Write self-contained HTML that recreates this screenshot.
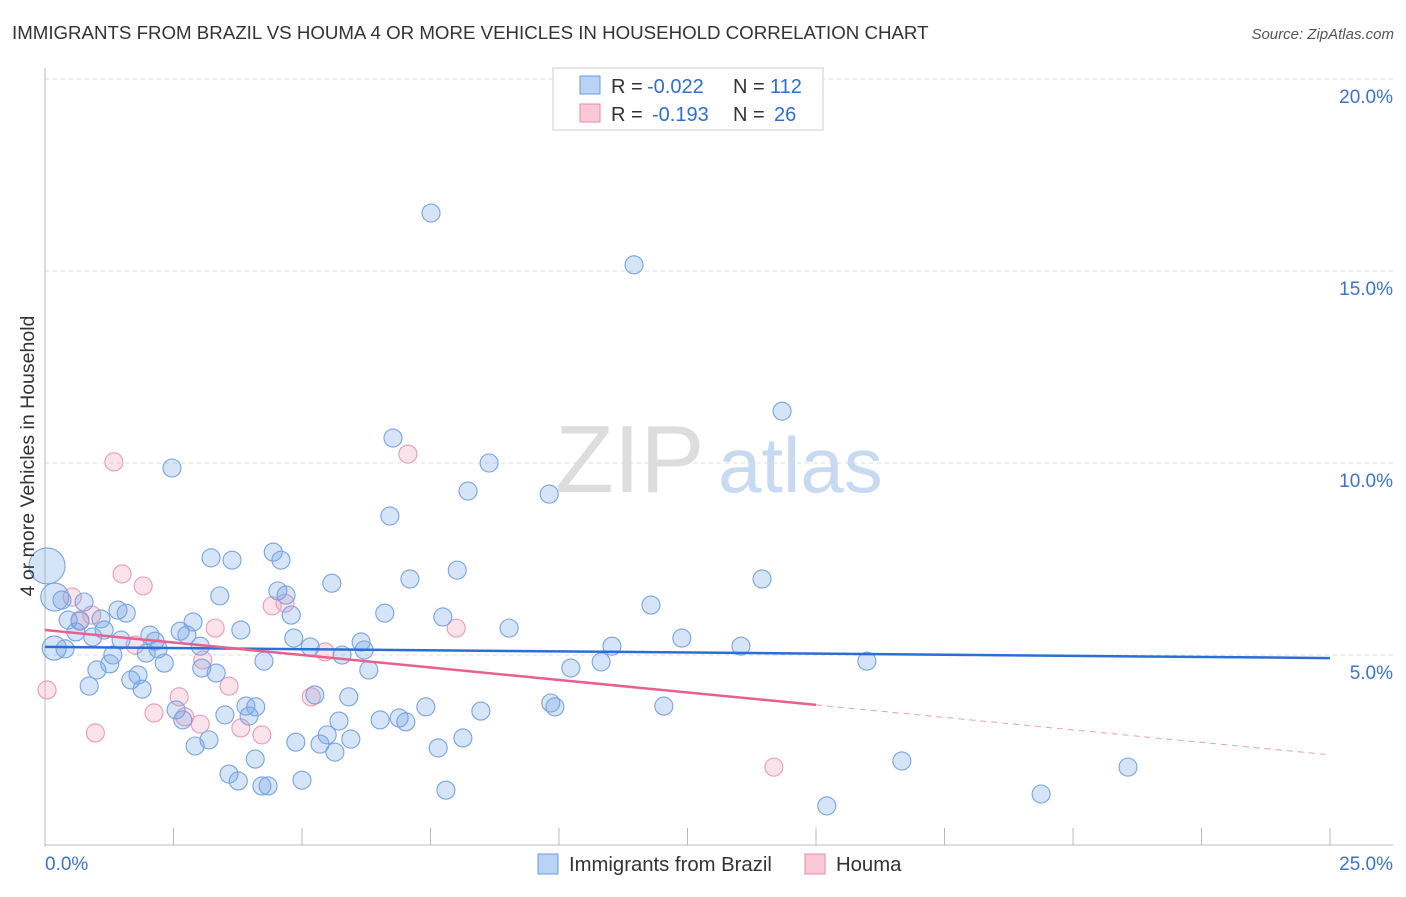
<!DOCTYPE html>
<html><head><meta charset="utf-8"><style>
body{margin:0;background:#fff;font-family:"Liberation Sans",sans-serif;}
svg text{font-family:"Liberation Sans",sans-serif;}
</style></head><body>
<svg width="1406" height="892" id="chart">
<text x="12" y="39" font-size="18.7" fill="#333">IMMIGRANTS FROM BRAZIL VS HOUMA 4 OR MORE VEHICLES IN HOUSEHOLD CORRELATION CHART</text>
<text x="1394" y="39" font-size="15" fill="#555" text-anchor="end" font-style="italic">Source: ZipAtlas.com</text>
<g>
<text x="555" y="492" font-size="96" fill="#ddd" font-family="Liberation Serif">ZIP</text>
<text x="718" y="492" font-size="78" fill="#c8daf2">atlas</text>
</g>
<g id="grid"></g><g id="axes"></g><g id="marks"></g><g id="trends"></g>
<text x="34" y="456" font-size="19.5" fill="#333" text-anchor="middle" transform="rotate(-90 34 456)">4 or more Vehicles in Household</text>
<g>
<rect x="553" y="68" width="270" height="62" fill="#fff" stroke="#ccc"/>
<rect x="580" y="76" width="20" height="18" fill="#b9d3f5" stroke="#6a9ae0"/>
<rect x="580" y="104" width="20" height="18" fill="#f9c8d6" stroke="#ea8aa8"/>
<text x="611" y="93" font-size="20" fill="#333">R =</text><text x="647" y="93" font-size="20" fill="#2f6fd0">-0.022</text>
<text x="733" y="93" font-size="20" fill="#333">N =</text><text x="770" y="93" font-size="20" fill="#2f6fd0">112</text>
<text x="611" y="121" font-size="20" fill="#333">R =</text><text x="652" y="121" font-size="20" fill="#2f6fd0">-0.193</text>
<text x="733" y="121" font-size="20" fill="#333">N =</text><text x="774" y="121" font-size="20" fill="#2f6fd0">26</text>
</g>
<g>
<rect x="538" y="854" width="20" height="20" fill="#b9d3f5" stroke="#6a9ae0"/>
<text x="569" y="871" font-size="20.3" fill="#333">Immigrants from Brazil</text>
<rect x="805" y="854" width="20" height="20" fill="#f9c8d6" stroke="#ea8aa8"/>
<text x="836" y="871" font-size="20.3" fill="#333">Houma</text>
</g>
</svg>
<script>
const yTicks=[5,10,15,20];
const yTickLabels=["5.0%","10.0%","15.0%","20.0%"];
const xTickCount=10;
const brazilX=[7.51,11.46,14.34,6.77,8.64,2.47,8.23,9.81,6.71,3.23,3.64,4.44,4.59,8.02,7.10,5.58,13.95,0.04,0.19,3.40,4.53,4.69,11.79,0.33,0.76,1.42,1.58,6.61,7.74,4.79,0.45,0.68,1.09,2.88,9.03,0.60,1.15,3.81,2.04,2.63,2.76,0.93,1.48,2.14,4.84,6.15,12.39,11.03,13.54,3.02,5.16,6.21,2.20,0.18,0.39,1.32,1.97,5.78,4.26,2.32,15.99,10.82,10.23,1.26,1.01,3.05,6.30,3.33,1.81,1.67,1.89,0.86,5.25,5.91,9.84,9.92,12.04,4.10,7.41,8.48,2.55,3.91,3.97,3.50,2.68,5.72,6.52,6.89,7.02,5.49,5.95,8.13,3.19,4.88,5.35,2.92,7.65,5.64,4.09,16.67,21.07,3.58,3.76,5.00,4.22,4.34,7.80,19.38,15.21];
const brazilY=[16.51,15.16,11.35,10.65,10.0,9.87,9.27,9.19,8.62,7.53,7.47,7.68,7.47,7.21,6.98,6.87,6.98,7.32,6.51,6.54,6.67,6.56,6.30,6.43,6.38,6.17,6.09,6.09,5.99,6.04,5.91,5.88,5.94,5.86,5.70,5.60,5.65,5.65,5.52,5.62,5.52,5.47,5.39,5.36,5.44,5.34,5.44,5.23,5.23,5.23,5.21,5.13,5.16,5.18,5.16,5.0,5.05,5.0,4.84,4.79,4.84,4.82,4.66,4.77,4.61,4.66,4.61,4.53,4.48,4.35,4.11,4.19,3.96,3.91,3.75,3.65,3.67,3.65,3.65,3.54,3.57,3.67,3.41,3.44,3.31,3.28,3.31,3.36,3.26,2.92,2.81,2.84,2.79,2.73,2.68,2.63,2.58,2.47,2.29,2.24,2.08,1.90,1.72,1.74,1.59,1.59,1.48,1.38,1.07];
const brazilSize=[9,9,9,9,9,9,9,9,9,9,9,9,9,9,9,9,9,18,14,9,9,9,9,9,9,9,9,9,9,9,9,9,9,9,9,9,9,9,9,9,9,9,9,9,9,9,9,9,9,9,9,9,9,12,9,9,9,9,9,9,9,9,9,9,9,9,9,9,9,9,9,9,9,9,9,9,9,9,9,9,9,9,9,9,9,9,9,9,9,9,9,9,9,9,9,9,9,9,9,9,9,9,9,9,9,9,9,9,9];
const houmaX=[1.34,7.06,1.50,1.91,4.42,4.67,0.53,0.91,0.68,3.31,8.00,1.75,3.07,5.45,0.04,2.61,3.58,5.18,2.12,2.72,3.02,3.81,4.22,0.98,14.18];
const houmaY=[10.03,10.23,7.11,6.80,6.28,6.35,6.51,6.04,5.91,5.70,5.70,5.26,4.87,5.08,4.09,3.91,4.19,3.91,3.49,3.39,3.20,3.10,2.92,2.97,2.08];
const brazilTrend=[5.21,4.92];
const houmaTrend=[5.65,2.40];
const houmaSolidEnd=15;

const NS="http://www.w3.org/2000/svg";
const X0=45,X1=1330,Y0=847,PPY=192/5;
const sx=v=>X0+(X1-X0)*v/25, sy=v=>Y0-v*PPY;
function mk(tag,attrs,parent){const e=document.createElementNS(NS,tag);for(const k in attrs)e.setAttribute(k,attrs[k]);document.getElementById(parent).appendChild(e);return e;}
yTicks.forEach((t,i)=>{
 const g=mk('line',{x1:X0,x2:1393,y1:sy(t),y2:sy(t),stroke:'#ddd','stroke-dasharray':'4,4'},'grid');
 
 
 const l=mk('text',{x:1393,y:sy(t)+24,'font-size':19,fill:'#3a74d0','text-anchor':'end'},'grid');l.textContent=yTickLabels[i];
 
 
});
const ax=mk('line',{x1:X0,x2:X0,y1:68,y2:Y0,stroke:'#bbb'},'axes');


const bx=mk('line',{x1:X0,x2:1393,y1:Y0-2,y2:Y0-2,stroke:'#bbb'},'axes');


for(let i=0;i<=xTickCount;i++){const v=25*i/xTickCount;
 const t=mk('line',{x1:sx(v),x2:sx(v),y1:828,y2:Y0-2,stroke:'#bbb'},'axes');
 
 }
const xl0=mk('text',{x:45,y:870,'font-size':19,fill:'#3a74d0'},'axes');xl0.textContent='0.0%';


const xl1=mk('text',{x:1393,y:870,'font-size':19,fill:'#3a74d0','text-anchor':'end'},'axes');xl1.textContent='25.0%';


houmaX.forEach((x,i)=>{const c=mk('circle',{cx:sx(x),cy:sy(houmaY[i]),r:9,fill:'rgba(245,160,185,0.3)',stroke:'#eb9ab2','stroke-width':1.1},'marks');
 
 });
brazilX.forEach((x,i)=>{const c=mk('circle',{cx:sx(x),cy:sy(brazilY[i]),r:brazilSize[i],fill:'rgba(120,165,230,0.3)',stroke:'#77a3e3','stroke-width':1.1},'marks');
 
 });
const bt=mk('line',{x1:sx(0),y1:sy(brazilTrend[0]),x2:sx(25),y2:sy(brazilTrend[1]),stroke:'#2a6fd6','stroke-width':2.5},'trends');


const hm=houmaTrend[0]+(houmaTrend[1]-houmaTrend[0])*houmaSolidEnd/25;
const ht=mk('line',{x1:sx(0),y1:sy(houmaTrend[0]),x2:sx(houmaSolidEnd),y2:sy(hm),stroke:'#e8608e','stroke-width':2.5},'trends');


const hd=mk('line',{x1:sx(houmaSolidEnd),y1:sy(hm),x2:sx(25),y2:sy(houmaTrend[1]),stroke:'#e8a0b8','stroke-width':1,'stroke-dasharray':'6,5'},'trends');


</script>
</body></html>
